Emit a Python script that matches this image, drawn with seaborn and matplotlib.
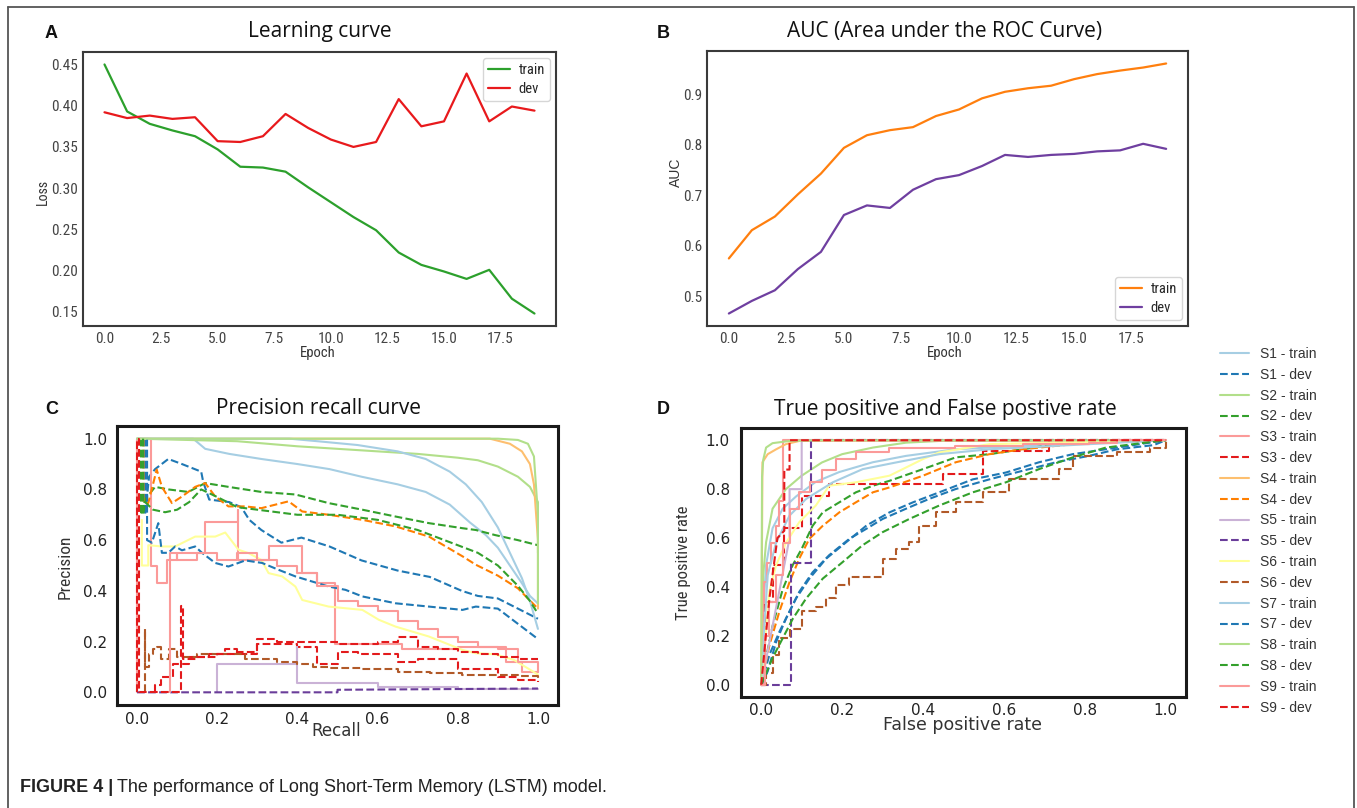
import numpy as np
import pandas as pd
import seaborn as sns
import matplotlib.pyplot as plt
from matplotlib.lines import Line2D

sns.set_theme(style='white')
plt.rcParams['font.family'] = ['Liberation Sans', 'DejaVu Sans']
NARROW = ['Roboto Condensed', 'Liberation Sans Narrow', 'Liberation Sans', 'DejaVu Sans']

W, H = 1357, 808

# ---- panel A / B data (per epoch) ----
epochs = list(range(20))
loss_train = [0.450, 0.393, 0.378, 0.370, 0.363, 0.347, 0.326, 0.325, 0.320, 0.301,
              0.283, 0.265, 0.249, 0.222, 0.207, 0.199, 0.190, 0.201, 0.166, 0.148]
loss_dev = [0.392, 0.385, 0.388, 0.384, 0.386, 0.357, 0.356, 0.363, 0.390, 0.373,
            0.359, 0.350, 0.356, 0.408, 0.375, 0.381, 0.439, 0.381, 0.399, 0.394]
auc_train = [0.575, 0.631, 0.658, 0.702, 0.743, 0.794, 0.819, 0.829, 0.835, 0.857,
             0.870, 0.892, 0.905, 0.912, 0.917, 0.930, 0.940, 0.947, 0.953, 0.961]
auc_dev = [0.466, 0.491, 0.512, 0.554, 0.588, 0.661, 0.680, 0.675, 0.711, 0.732,
           0.740, 0.758, 0.780, 0.776, 0.780, 0.782, 0.787, 0.789, 0.802, 0.792]

# ---- panel C: precision-recall curves ----
pr_s1_train_x = [0.0, 0.14, 0.17, 0.23, 0.31, 0.40, 0.48, 0.56, 0.65, 0.72, 0.78, 0.83, 0.87, 0.90, 0.93, 0.96, 0.98, 1.0]
pr_s1_train_y = [1.0, 1.0, 0.96, 0.94, 0.92, 0.90, 0.88, 0.85, 0.82, 0.79, 0.74, 0.67, 0.62, 0.57, 0.50, 0.43, 0.38, 0.35]
pr_s1_dev_x = [0.02, 0.02, 0.03, 0.045, 0.078, 0.112, 0.16, 0.165, 0.18, 0.23, 0.26, 0.28, 0.31, 0.36, 0.41, 0.48,
               0.56, 0.65, 0.73, 0.81, 0.85, 0.90, 0.95, 1.0]
pr_s1_dev_y = [1.0, 0.7, 0.85, 0.88, 0.92, 0.90, 0.87, 0.83, 0.76, 0.75, 0.73, 0.68, 0.64, 0.59, 0.61, 0.575,
               0.52, 0.48, 0.455, 0.40, 0.38, 0.37, 0.33, 0.29]
pr_s2_train_x = [0.0, 0.25, 0.4, 0.5, 0.6, 0.7, 0.8, 0.85, 0.9, 0.95, 0.98, 1.0, 1.0]
pr_s2_train_y = [1.0, 0.99, 0.97, 0.96, 0.95, 0.94, 0.925, 0.915, 0.89, 0.85, 0.81, 0.75, 0.55]
pr_s2_dev_x = [0.01, 0.01, 0.02, 0.045, 0.078, 0.128, 0.17, 0.228, 0.31, 0.395, 0.478, 0.562, 0.645, 0.728,
               0.812, 0.845, 0.893, 0.95, 1.0]
pr_s2_dev_y = [1.0, 0.7, 0.76, 0.81, 0.80, 0.79, 0.825, 0.81, 0.79, 0.78, 0.746, 0.72, 0.693, 0.667,
               0.647, 0.64, 0.62, 0.60, 0.58]
pr_s3_train_x = [0.0, 0.0, 0.035, 0.035, 0.05, 0.05, 0.075, 0.075, 0.1, 0.1, 0.17, 0.17, 0.253, 0.253, 0.253,
                 0.33, 0.33, 0.412, 0.412, 0.45, 0.45, 0.495, 0.495, 0.66, 0.66, 0.8, 0.8, 0.92, 0.92, 0.96, 0.96, 1.0]
pr_s3_train_y = [0.0, 1.0, 1.0, 0.5, 0.5, 0.43, 0.43, 0.52, 0.52, 0.55, 0.55, 0.67, 0.67, 0.72, 0.52,
                 0.52, 0.575, 0.575, 0.47, 0.47, 0.43, 0.43, 0.19, 0.19, 0.17, 0.17, 0.18, 0.18, 0.12, 0.12, 0.08, 0.08]
pr_s3_dev_x = [0.045, 0.045, 0.06, 0.09, 0.13, 0.18, 0.22, 0.25, 0.3, 0.4, 0.45, 0.5, 0.55, 0.65, 0.7, 0.8,
               0.85, 0.9, 0.95, 1.0]
pr_s3_dev_y = [0.0, 0.03, 0.06, 0.11, 0.14, 0.15, 0.17, 0.15, 0.19, 0.18, 0.11, 0.16, 0.15, 0.12, 0.13, 0.09,
               0.09, 0.06, 0.05, 0.04]
pr_s4_train_x = [0.0, 0.88, 0.93, 0.96, 0.98, 0.99, 1.0, 1.0]
pr_s4_train_y = [1.0, 1.0, 0.98, 0.95, 0.90, 0.82, 0.6, 0.33]
pr_s4_dev_x = [0.016, 0.016, 0.028, 0.049, 0.062, 0.087, 0.112, 0.145, 0.17, 0.195, 0.228, 0.27, 0.31, 0.378,
               0.412, 0.478, 0.562, 0.645, 0.728, 0.812, 0.845, 0.9, 0.95, 1.0]
pr_s4_dev_y = [1.0, 0.75, 0.746, 0.878, 0.81, 0.746, 0.772, 0.81, 0.825, 0.772, 0.733, 0.733, 0.726, 0.753,
               0.713, 0.70, 0.68, 0.654, 0.614, 0.536, 0.503, 0.46, 0.41, 0.33]
pr_s5_train_x = [0.2, 0.2, 0.4, 0.4, 0.4, 0.6, 0.6, 0.8, 0.8, 1.0]
pr_s5_train_y = [0.0, 0.11, 0.11, 0.18, 0.035, 0.035, 0.02, 0.02, 0.015, 0.015]
pr_s5_dev_x = [0.0, 0.5, 0.5, 1.0]
pr_s5_dev_y = [0.0, 0.0, 0.01, 0.015]
pr_s6_train_x = [0.012, 0.012, 0.028, 0.028, 0.062, 0.095, 0.145, 0.195, 0.22, 0.253, 0.278, 0.31, 0.328, 0.362,
                 0.395, 0.412, 0.478, 0.562, 0.603, 0.645, 0.728, 0.812, 0.845, 0.893, 0.94, 1.0]
pr_s6_train_y = [0.68, 0.5, 0.5, 0.58, 0.575, 0.575, 0.614, 0.614, 0.63, 0.562, 0.549, 0.522, 0.47, 0.457,
                 0.417, 0.364, 0.338, 0.325, 0.286, 0.259, 0.22, 0.167, 0.154, 0.15, 0.128, 0.07]
pr_s6_dev_x = [0.02, 0.02, 0.02, 0.03, 0.04, 0.05, 0.06, 0.08, 0.1, 0.15, 0.23, 0.27, 0.35, 0.4, 0.44, 0.48,
               0.56, 0.65, 0.73, 0.81, 0.89, 0.95, 1.0]
pr_s6_dev_y = [0.0, 0.25, 0.1, 0.15, 0.17, 0.18, 0.13, 0.17, 0.14, 0.15, 0.15, 0.13, 0.12, 0.11, 0.10, 0.095,
               0.09, 0.08, 0.075, 0.07, 0.07, 0.065, 0.055]
pr_s7_train_x = [0.0, 0.38, 0.45, 0.55, 0.65, 0.72, 0.78, 0.82, 0.86, 0.90, 0.93, 0.96, 0.98, 1.0]
pr_s7_train_y = [1.0, 1.0, 0.99, 0.975, 0.95, 0.92, 0.87, 0.82, 0.75, 0.65, 0.55, 0.45, 0.36, 0.25]
pr_s7_dev_x = [0.025, 0.025, 0.037, 0.053, 0.062, 0.078, 0.095, 0.112, 0.145, 0.162, 0.195, 0.228, 0.27, 0.312,
               0.353, 0.395, 0.478, 0.52, 0.562, 0.645, 0.728, 0.812, 0.845, 0.9, 0.95, 1.0]
pr_s7_dev_y = [1.0, 0.6, 0.59, 0.667, 0.55, 0.55, 0.575, 0.56, 0.575, 0.55, 0.51, 0.496, 0.52, 0.51,
               0.483, 0.457, 0.417, 0.404, 0.378, 0.351, 0.338, 0.325, 0.338, 0.33, 0.27, 0.21]
pr_s8_train_x = [0.0, 0.90, 0.95, 0.975, 0.99, 1.0, 1.0]
pr_s8_train_y = [1.0, 1.0, 0.995, 0.98, 0.93, 0.7, 0.35]
pr_s8_dev_x = [0.015, 0.015, 0.02, 0.04, 0.07, 0.1, 0.13, 0.16, 0.2, 0.25, 0.3, 0.4, 0.5, 0.6, 0.7, 0.8,
               0.85, 0.9, 0.95, 0.98, 1.0]
pr_s8_dev_y = [1.0, 0.7, 0.75, 0.72, 0.71, 0.72, 0.75, 0.80, 0.77, 0.73, 0.72, 0.70, 0.70, 0.68, 0.64, 0.58,
               0.55, 0.50, 0.42, 0.36, 0.31]
pr_s9_train_x = [0.083, 0.083, 0.1, 0.15, 0.2, 0.25, 0.3, 0.35, 0.4, 0.45, 0.5, 0.55, 0.6, 0.65, 0.7, 0.75,
                 0.8, 0.85, 0.9, 0.95, 1.0]
pr_s9_train_y = [0.0, 0.55, 0.52, 0.55, 0.52, 0.55, 0.52, 0.5, 0.47, 0.42, 0.36, 0.34, 0.32, 0.28, 0.25, 0.22,
                 0.2, 0.18, 0.17, 0.12, 0.08]
pr_s9_dev_x = [0.0, 0.0, 0.005, 0.005, 0.11, 0.11, 0.115, 0.15, 0.2, 0.25, 0.3, 0.35, 0.4, 0.45, 0.5, 0.55,
               0.6, 0.65, 0.7, 0.75, 0.8, 0.85, 0.9, 0.95, 1.0]
pr_s9_dev_y = [0.0, 1.0, 1.0, 0.0, 0.0, 0.34, 0.13, 0.14, 0.15, 0.16, 0.21, 0.2, 0.2, 0.2, 0.19, 0.19,
               0.2, 0.22, 0.18, 0.17, 0.16, 0.15, 0.14, 0.13, 0.13]

# ---- panel D: ROC curves ----
roc_s1_train_x = [0.0, 0.005, 0.012, 0.028, 0.053, 0.086, 0.135, 0.193, 0.276, 0.358, 0.48, 0.646, 1.0]
roc_s1_train_y = [0.0, 0.3, 0.49, 0.64, 0.72, 0.77, 0.83, 0.87, 0.91, 0.936, 0.963, 0.977, 1.0]
roc_s1_dev_x = [0.0, 0.02, 0.045, 0.07, 0.094, 0.127, 0.168, 0.218, 0.26, 0.3, 0.358, 0.415, 0.48, 0.564,
                0.646, 0.729, 0.81, 0.88, 0.97, 1.0]
roc_s1_dev_y = [0.0, 0.122, 0.217, 0.3, 0.38, 0.46, 0.53, 0.597, 0.638, 0.678, 0.72, 0.76, 0.8, 0.84,
                0.875, 0.91, 0.936, 0.963, 0.98, 1.0]
roc_s2_train_x = [0.0, 0.005, 0.012, 0.028, 0.061, 0.1, 0.15, 0.2, 0.276, 0.358, 0.44, 1.0]
roc_s2_train_y = [0.0, 0.45, 0.583, 0.72, 0.80, 0.855, 0.909, 0.943, 0.97, 0.99, 0.997, 1.0]
roc_s2_dev_x = [0.0, 0.012, 0.028, 0.053, 0.078, 0.1, 0.127, 0.152, 0.193, 0.234, 0.276, 0.317, 0.4, 0.481,
                0.564, 0.646, 0.729, 0.81, 0.93, 1.0]
roc_s2_dev_y = [0.0, 0.11, 0.24, 0.39, 0.49, 0.556, 0.65, 0.705, 0.746, 0.787, 0.814, 0.834, 0.882, 0.93,
                0.943, 0.963, 0.984, 0.99, 1.0, 1.0]
roc_s3_train_x = [0.0, 0.005, 0.008, 0.014, 0.024, 0.037, 0.045, 0.053, 0.053, 1.0]
roc_s3_train_y = [0.0, 0.3, 0.42, 0.5, 0.58, 0.65, 0.75, 0.9, 1.0, 1.0]
roc_s3_dev_x = [0.0, 0.01, 0.01, 0.028, 0.028, 0.057, 0.057, 0.1, 0.1, 0.168, 0.168, 0.449, 0.449, 0.547,
                0.547, 0.712, 0.712, 1.0]
roc_s3_dev_y = [0.0, 0.0, 0.34, 0.34, 0.49, 0.49, 0.64, 0.64, 0.77, 0.77, 0.82, 0.82, 0.86, 0.86,
                0.957, 0.957, 1.0, 1.0]
roc_s4_train_x = [0.0, 0.003, 0.016, 0.037, 0.061, 0.094, 1.0]
roc_s4_train_y = [0.0, 0.91, 0.943, 0.963, 0.984, 0.997, 1.0]
roc_s4_dev_x = [0.0, 0.02, 0.045, 0.07, 0.094, 0.119, 0.152, 0.193, 0.234, 0.276, 0.317, 0.4, 0.481, 0.564,
                0.646, 0.729, 0.81, 1.0]
roc_s4_dev_y = [0.0, 0.16, 0.3, 0.42, 0.516, 0.597, 0.65, 0.705, 0.746, 0.787, 0.807, 0.855, 0.91, 0.943,
                0.963, 0.977, 0.99, 1.0]
roc_s5_train_x = [0.0, 0.07, 0.07, 0.1, 0.1, 1.0]
roc_s5_train_y = [0.0, 0.6, 0.8, 0.8, 1.0, 1.0]
roc_s5_dev_x = [0.0, 0.074, 0.074, 0.123, 0.123, 1.0]
roc_s5_dev_y = [0.0, 0.0, 0.5, 0.5, 1.0, 1.0]
roc_s6_train_x = [0.0, 0.02, 0.037, 0.061, 0.094, 0.135, 0.168, 0.234, 0.317, 0.4, 0.44, 0.564, 1.0]
roc_s6_train_y = [0.0, 0.38, 0.49, 0.58, 0.665, 0.733, 0.814, 0.828, 0.855, 0.923, 0.95, 0.984, 1.0]
roc_s6_dev_x = [0.0, 0.012, 0.03, 0.045, 0.07, 0.1, 0.135, 0.16, 0.185, 0.218, 0.3, 0.333, 0.366, 0.39,
                0.432, 0.481, 0.547, 0.613, 0.737, 0.77, 0.88, 0.96, 1.0]
roc_s6_dev_y = [0.0, 0.05, 0.12, 0.19, 0.23, 0.3, 0.32, 0.353, 0.407, 0.44, 0.515, 0.556, 0.583, 0.65,
                0.705, 0.746, 0.787, 0.84, 0.882, 0.936, 0.95, 0.97, 1.0]
roc_s7_train_x = [0.0, 0.008, 0.016, 0.037, 0.07, 0.111, 0.177, 0.251, 0.333, 0.44, 0.564, 1.0]
roc_s7_train_y = [0.0, 0.25, 0.448, 0.583, 0.692, 0.76, 0.828, 0.882, 0.909, 0.943, 0.963, 1.0]
roc_s7_dev_x = [0.0, 0.016, 0.037, 0.061, 0.086, 0.119, 0.16, 0.21, 0.26, 0.317, 0.375, 0.44, 0.523, 0.605,
                0.687, 0.77, 0.88, 1.0]
roc_s7_dev_y = [0.0, 0.055, 0.176, 0.27, 0.353, 0.434, 0.515, 0.583, 0.651, 0.705, 0.746, 0.787, 0.84, 0.868,
                0.91, 0.943, 0.97, 1.0]
roc_s8_train_x = [0.0, 0.002, 0.005, 0.012, 0.028, 0.07, 0.15, 1.0]
roc_s8_train_y = [0.0, 0.85, 0.92, 0.97, 0.988, 0.997, 1.0, 1.0]
roc_s8_dev_x = [0.0, 0.028, 0.053, 0.078, 0.111, 0.152, 0.2, 0.25, 0.3, 0.366, 0.44, 0.523, 0.605, 0.687,
                0.77, 0.852, 0.95, 1.0]
roc_s8_dev_y = [0.0, 0.11, 0.19, 0.27, 0.353, 0.434, 0.5, 0.57, 0.624, 0.678, 0.733, 0.787, 0.828, 0.882,
                0.93, 0.97, 0.99, 1.0]
roc_s9_train_x = [0.0, 0.01, 0.02, 0.037, 0.053, 0.07, 0.094, 0.12, 0.15, 0.185, 0.234, 0.317, 0.48, 0.646,
                  0.811, 0.88, 1.0]
roc_s9_train_y = [0.0, 0.2, 0.34, 0.45, 0.58, 0.72, 0.787, 0.828, 0.88, 0.923, 0.95, 0.97, 0.977, 0.984,
                  0.99, 1.0, 1.0]
roc_s9_dev_x = [0.0, 0.02, 0.04, 0.057, 0.057, 0.07, 0.07, 1.0]
roc_s9_dev_y = [0.0, 0.35, 0.6, 0.63, 0.88, 0.88, 1.0, 1.0]

# curves drawn as staircases
stepped = {'pr_s3_dev', 'pr_s9_dev', 'pr_s6_dev', 'pr_s9_train',
           'roc_s3_train', 'roc_s9_train', 'roc_s6_dev'}

pal = sns.color_palette('Paired', 12)
g = globals()


def px_axes(l, t, r, b):
    return fig.add_axes([l / W, 1 - b / H, (r - l) / W, (b - t) / H])


fig = plt.figure(figsize=(W / 100, H / 100), dpi=100)

# outer frame (left, top, right)
for xs, ys in [([8 / W, 8 / W], [0, 1 - 7 / H]), ([8 / W, 1354 / W], [1 - 7 / H, 1 - 7 / H]),
               ([1354 / W, 1354 / W], [0, 1 - 7 / H])]:
    fig.add_artist(Line2D(xs, ys, color='#555555', lw=1.3))

# ---------- A: learning curve ----------
axA = px_axes(83, 52, 556, 326)
dfA = pd.DataFrame({'Epoch': epochs * 2, 'Loss': loss_train + loss_dev,
                    'set': ['train'] * 20 + ['dev'] * 20})
sns.lineplot(data=dfA, x='Epoch', y='Loss', hue='set', palette=['#2ca02c', '#e8191c'],
             ax=axA, lw=1.6)
axA.set_xticks([0, 2.5, 5, 7.5, 10, 12.5, 15, 17.5])
axA.set_xticklabels(['0.0', '2.5', '5.0', '7.5', '10.0', '12.5', '15.0', '17.5'])
axA.set_yticks([0.15, 0.20, 0.25, 0.30, 0.35, 0.40, 0.45])
axA.set_yticklabels(['0.15', '0.20', '0.25', '0.30', '0.35', '0.40', '0.45'])
axA.legend(loc='upper right', prop={'family': NARROW, 'size': 10.5}, frameon=True,
           handlelength=1.5, handletextpad=0.6, borderpad=0.35, labelspacing=0.35,
           borderaxespad=0.4)

# ---------- B: AUC ----------
axB = px_axes(707, 51, 1188, 326)
dfB = pd.DataFrame({'Epoch': epochs * 2, 'AUC': auc_train + auc_dev,
                    'set': ['train'] * 20 + ['dev'] * 20})
sns.lineplot(data=dfB, x='Epoch', y='AUC', hue='set', palette=['#ff7f0e', '#6f3fa0'],
             ax=axB, lw=1.6)
axB.set_xticks([0, 2.5, 5, 7.5, 10, 12.5, 15, 17.5])
axB.set_xticklabels(['0.0', '2.5', '5.0', '7.5', '10.0', '12.5', '15.0', '17.5'])
axB.set_yticks([0.5, 0.6, 0.7, 0.8, 0.9])
axB.set_yticklabels(['0.5', '0.6', '0.7', '0.8', '0.9'])
axB.legend(loc='lower right', prop={'family': NARROW, 'size': 10.5}, frameon=True,
           handlelength=1.5, handletextpad=0.6, borderpad=0.35, labelspacing=0.35,
           borderaxespad=0.4)

for ax, yl, ylc, xlc in [(axA, 'Loss', (-0.07, 0.49), (0.497, -0.072)),
                         (axB, 'AUC', (-0.05, 0.56), (0.495, -0.072))]:
    for sp in ax.spines.values():
        sp.set_color('#3a3a3a')
        sp.set_linewidth(1.5)
    ax.tick_params(labelsize=11, labelcolor='#444444', length=0)
    ax.tick_params(axis='x', pad=4)
    ax.tick_params(axis='y', pad=3.5)
    for lab in ax.get_xticklabels() + ax.get_yticklabels():
        lab.set_family(NARROW)
    ax.set_xlabel('Epoch', fontsize=10.5, family=NARROW, color='#333333')
    ax.set_ylabel(yl, fontsize=10, family=NARROW if yl == 'Loss' else ['Liberation Sans'],
                  color='#333333')
    ax.yaxis.set_label_coords(*ylc)
    ax.xaxis.set_label_coords(*xlc)
    leg = ax.get_legend()
    leg.get_frame().set_edgecolor('#cccccc')

# ---------- C / D: precision recall and ROC ----------
axC = px_axes(117, 426, 558, 705)
axD = px_axes(741, 428, 1186, 697)
handles = []
for k in range(1, 10):
    for j, kind in enumerate(['train', 'dev']):
        col = pal[(2 * (k - 1) + j) % 12]
        ls = '-' if kind == 'train' else '--'
        for ax, pre in [(axC, 'pr'), (axD, 'roc')]:
            key = f'{pre}_s{k}_{kind}'
            ds = 'steps-post' if key in stepped else 'default'
            sns.lineplot(x=g[key + '_x'], y=g[key + '_y'], ax=ax, color=col, linestyle=ls,
                         lw=1.5, sort=False, estimator=None, drawstyle=ds)
        handles.append(Line2D([], [], color=col, linestyle=ls, lw=1.5, label=f'S{k} - {kind}'))

for ax in (axC, axD):
    ax.set_xlim(-0.05, 1.05)
    ax.set_ylim(-0.05, 1.05)
    ax.set_xticks([0.0, 0.2, 0.4, 0.6, 0.8, 1.0])
    ax.set_yticks([0.0, 0.2, 0.4, 0.6, 0.8, 1.0])
    ax.set_xticklabels(['0.0', '0.2', '0.4', '0.6', '0.8', '1.0'])
    ax.set_yticklabels(['0.0', '0.2', '0.4', '0.6', '0.8', '1.0'])
    for sp in ax.spines.values():
        sp.set_color('#1a1a1a')
        sp.set_linewidth(2.2)
    ax.tick_params(labelsize=11, labelcolor='#222222', length=0)
    for lab in ax.get_xticklabels() + ax.get_yticklabels():
        lab.set_family('DejaVu Sans')
axC.tick_params(axis='y', pad=7)
axC.tick_params(axis='x', pad=5)
axD.tick_params(axis='y', pad=8)
axD.tick_params(axis='x', pad=4)

axC.set_xlabel('Recall', fontsize=12, family='DejaVu Sans', color='#333333')
axC.set_ylabel('Precision', fontsize=12.5, family=NARROW, color='#333333')
axC.yaxis.set_label_coords(-0.10, 0.495)
axC.xaxis.set_label_coords(0.497, -0.062)
axD.set_xlabel('False positive rate', fontsize=12.5, family='DejaVu Sans', color='#333333')
axD.set_ylabel('True positive rate', fontsize=12, family=NARROW, color='#333333')
axD.yaxis.set_label_coords(-0.112, 0.498)
axD.xaxis.set_label_coords(0.498, -0.07)

fig.legend(handles=handles, loc='upper left', bbox_to_anchor=(1220 / W, 1 - 347 / H),
           frameon=False, prop={'family': ['Liberation Sans'], 'size': 10},
           handlelength=2.1, handletextpad=0.8, labelspacing=0.49, borderpad=0,
           borderaxespad=0, labelcolor='#333333')

# ---------- titles and panel letters ----------
titles = [('A', 'Learning curve', 320, 32), ('B', 'AUC (Area under the ROC Curve)', 945, 32),
          ('C', 'Precision recall curve', 319, 409), ('D', 'True positive and False postive rate', 945, 409)]
for letter, title, cx, cy in titles:
    fig.text(cx / W, 1 - cy / H, title, ha='center', va='center', fontsize=15,
             family=['Open Sans', 'DejaVu Sans'], color='#111111')
    lx = 45 if letter in 'AC' else 657
    fig.text(lx / W, 1 - (cy + 1) / H, letter, ha='left', va='center', fontsize=13,
             fontweight='bold', color='#111111')

# ---------- caption ----------
renderer = fig.canvas.get_renderer()
t1 = fig.text(20 / W, 1 - 788 / H, 'FIGURE 4 |', ha='left', va='center', fontsize=13,
              fontweight='bold', family=['Liberation Sans'], color='#222222')
bb = t1.get_window_extent(renderer=renderer)
fig.text((bb.x1 + 4) / W, 1 - 788 / H, 'The performance of Long Short-Term Memory (LSTM) model.',
         ha='left', va='center', fontsize=13, family=['Liberation Sans'], color='#222222')

fig.savefig('out.png', dpi=100)
